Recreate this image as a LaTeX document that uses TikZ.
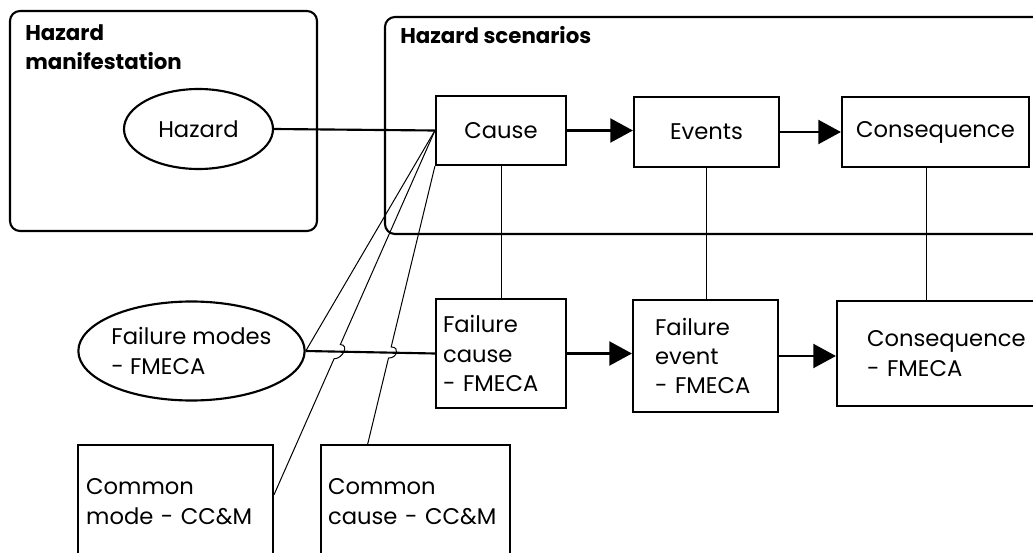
\documentclass[tikz,border=0pt]{standalone}
\usepackage{fontspec}
\setmainfont{Poppins}
\usetikzlibrary{arrows.meta}
\usetikzlibrary{calc}
\usetikzlibrary{shapes}

\begin{document}
\begin{tikzpicture}[x=0.75pt,y=-0.75pt,
  font=\fontsize{17}{22}\selectfont,
  zone/.style={draw,line width=1.6pt,rounded corners=7.5pt,rectangle,inner sep=0pt},
  zonetitle/.style={font=\fontsize{16}{22}\selectfont\bfseries,align=left,inner sep=0pt,anchor=north west},
  box/.style={draw,line width=1.6pt,rectangle,inner sep=0pt},
  blob/.style={draw,line width=1.6pt,ellipse,inner sep=0pt,align=left},
  link/.style={line width=1.6pt},
  tie/.style={line width=0.75pt},
  flow/.style={line width=1.8pt,-{Triangle[length=17pt,width=18pt]}}]
\useasboundingbox (0,0) rectangle (1033,553);
\clip (0,0) rectangle (1033,553);

% the two groups
\node[zone,minimum width=230.25pt,minimum height=165pt] (manif) at (163.5,121) {};
\node[zonetitle] (maniftitle) at (25,24) {Hazard\\manifestation};
\node[zone,minimum width=506.25pt,minimum height=162.75pt] (scen) at (722.5,125.5) {};
\node[zonetitle] (scentitle) at (400,26) {Hazard scenarios};

% upper row
\node[blob,minimum width=111.75pt,minimum height=60pt] (hazard) at (198.5,129) {Hazard};
\node[box,minimum width=97.5pt,minimum height=51.75pt] (cause) at (501,130.5) {Cause};
\node[box,minimum width=108.75pt,minimum height=52.5pt] (events) at (706.5,132) {Events};
\node[box,minimum width=140.25pt,minimum height=52.5pt] (cons) at (935.5,132) {Consequence};

% lower row
\node[blob,minimum width=140.25pt,minimum height=74.25pt] (fmodes) at (191.5,351) {Failure modes\\- FMECA};
\node[box,minimum width=97.5pt,minimum height=81.75pt,text width=87pt,align=left] (fcause) at (501,353.5) {Failure\\cause\\- FMECA};
\node[box,minimum width=108.75pt,minimum height=84pt,text width=75.75pt,align=left] (fevent) at (705.5,356) {Failure\\event\\- FMECA};
\node[box,minimum width=182.25pt,minimum height=78.75pt,text width=137.25pt,align=left] (cfmeca) at (958.5,353.5) {Consequence\\- FMECA};

% common cause / mode
\node[box,minimum width=146.25pt,minimum height=84.75pt,text width=134pt,align=left] (cmode) at (175.5,501.5) {Common\\mode - CC\&M};
\node[box,minimum width=141.75pt,minimum height=84.75pt,text width=131.25pt,align=left] (ccause) at (415.5,501.5) {Common\\cause - CC\&M};

\coordinate (cmhit) at ($(cmode.north east)!0.44!(cmode.south east)$);
\coordinate (cchit) at ($(ccause.north west)!0.25!(ccause.north east)$);

\draw[link] (hazard.east) -- (cause.west);
\draw[flow] (cause.east) -- (cause.east -| events.west);
\draw[flow] (events.east) -- (events.east -| cons.west);
\draw[link] (fmodes.east) -- (fcause.west);
\draw[flow] (fcause.east) -- (fcause.east -| fevent.west);
\draw[flow] (fevent.east) -- (fevent.east -| cfmeca.west);

\draw[tie] (cause.south) -- (fcause.north);
\draw[tie] (events.south) -- (events.south |- fevent.north);
\draw[tie] ([xshift=-6.75pt]cons.south) -- ([xshift=-6.75pt]cons.south |- cfmeca.north);

% fan from cause, hopping over the lower line
\draw[tie] (cause.west) -- (fmodes.east);
\draw[tie] (cause.west) -- ($(cause.west)!0.588!(cmhit)$)
  .. controls +(9,0) and +(9,0) .. ($(cause.west)!0.627!(cmhit)$) -- (cmhit);
\draw[tie] (cause.south west) -- ($(cause.south west)!0.651!(cchit)$)
  .. controls +(9,0) and +(9,0) .. ($(cause.south west)!0.691!(cchit)$) -- (cchit);
\end{tikzpicture}
\end{document}
